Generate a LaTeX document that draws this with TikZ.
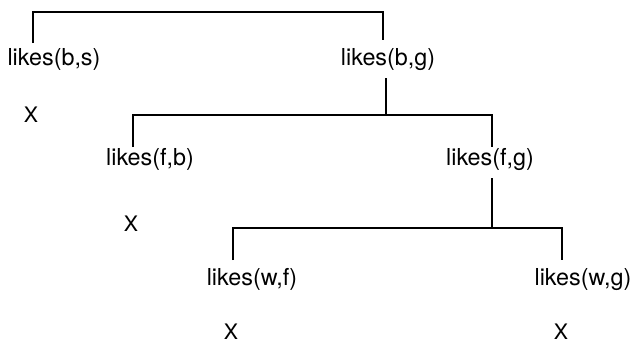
\documentclass[tikz,border=0pt]{standalone}
\usepackage{fontspec}
\setmainfont{TeX Gyre Heros}
\begin{document}
\begin{tikzpicture}[x=0.75pt,y=-0.75pt,
  goal/.style={inner sep=0pt,anchor=base,font=\fontsize{17.5}{20}\selectfont},
  fail/.style={inner sep=0pt,anchor=base,font=\fontsize{16}{19}\selectfont},
  branch/.style={line width=1.4pt}]
\useasboundingbox (0,0) rectangle (634,343);
% goals of the search tree
\node[goal] (bs) at (54,65) {likes(b,s)};
\node[goal] (bg) at (388,65) {likes(b,g)};
\node[goal] (fb) at (150,165) {likes(f,b)};
\node[goal] (fg) at (490,165) {likes(f,g)};
\node[goal] (wf) at (252,285) {likes(w,f)};
\node[goal] (wg) at (583,285) {likes(w,g)};
% failed goals
\node[fail] (x1) at (31,122) {X};
\node[fail] (x2) at (131,231) {X};
\node[fail] (x3) at (231,339) {X};
\node[fail] (x4) at (561,339) {X};
% branch ends
\coordinate (bsTop) at (33,43);
\coordinate (bgTop) at (383,40);
\coordinate (bgBot) at (386,78);
\coordinate (fbTop) at (133,147);
\coordinate (fgTop) at (492,147);
\coordinate (fgBot) at (492,178);
\coordinate (wfTop) at (233,260);
\coordinate (wgTop) at (562,260);
% branches
\draw[branch] (bsTop) |- (383,12) -- (bgTop);
\draw[branch] (bgBot) -- (386,115);
\draw[branch] (fbTop) |- (492,115) -- (fgTop);
\draw[branch] (fgBot) -- (492,228);
\draw[branch] (wfTop) |- (562,228) -- (wgTop);
\end{tikzpicture}
\end{document}
